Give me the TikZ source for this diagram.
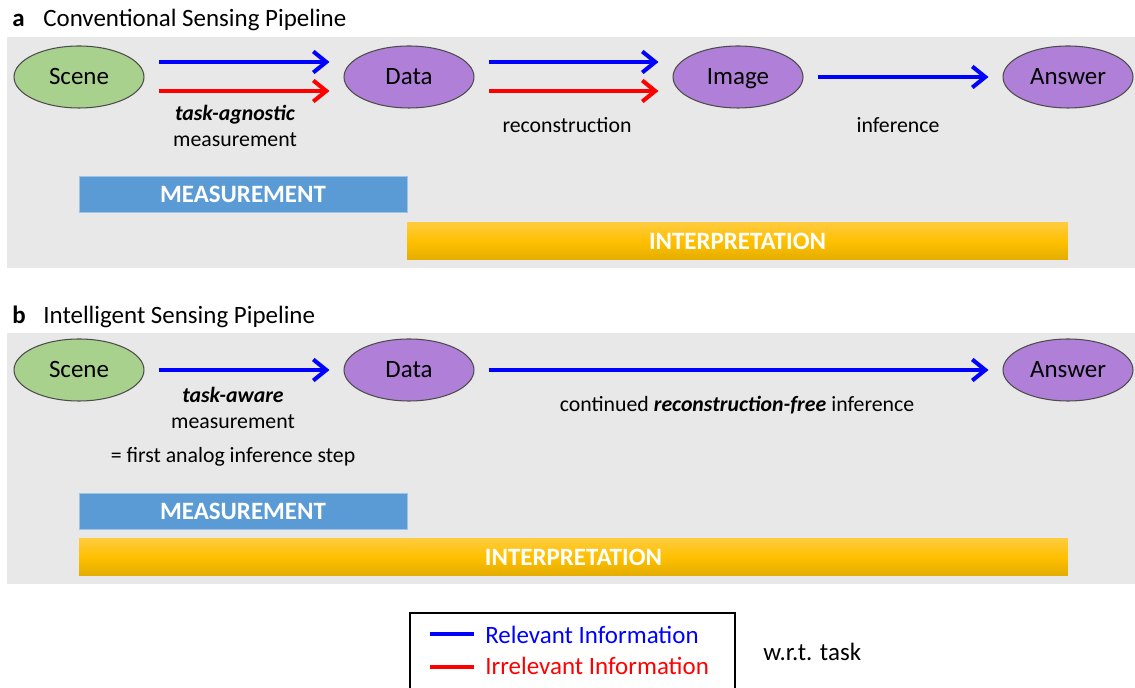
\documentclass[tikz,border=0pt]{standalone}
\usepackage{fontspec}
\setmainfont{Carlito}
\usetikzlibrary{calc, arrows.meta, shapes.geometric}
\definecolor{panelgray}{HTML}{E8E8E8}
\definecolor{scenegreen}{HTML}{A9D18E}
\definecolor{datapurple}{HTML}{B07FD8}
\definecolor{measblue}{HTML}{5B9BD5}
\definecolor{goldtop}{HTML}{FFCB3D}
\definecolor{goldmid}{HTML}{FFC000}
\definecolor{goldbot}{HTML}{E3AC00}

\begin{document}
\begin{tikzpicture}[x=0.02cm,y=-0.02cm,
    >={Straight Barb[length=2.6mm,width=4.2mm]},
    stage/.style={ellipse,draw=black!70,line width=0.6pt,minimum width=2.6cm,minimum height=1.24cm,inner sep=0pt,text height=11pt,text depth=2pt,font=\fontsize{14.2}{17}\selectfont},
    relevant/.style={->,blue,line width=2.3pt,shorten <=0.28cm,shorten >=0.28cm},
    irrelevant/.style={relevant,red},
    lbl/.style={anchor=base,inner sep=0pt,font=\fontsize{12.4}{15}\selectfont},
    title/.style={anchor=base west,inner sep=0pt,font=\fontsize{14.2}{17}\selectfont},
    measbar/.style={fill=measblue,draw=measblue!60!white,text=white,minimum height=0.72cm,inner sep=0pt,font=\bfseries\fontsize{14.2}{17}\selectfont},
    interbar/.style={top color=goldtop,bottom color=goldbot,middle color=goldmid,text=white,minimum height=0.74cm,inner sep=0pt,font=\bfseries\fontsize{14.2}{17}\selectfont}]
    \useasboundingbox (0,0) rectangle (1135,688);
    \fill[panelgray] (7,37) rectangle (1135,268);
    \fill[panelgray] (7,333) rectangle (1135,584);
    \node (taga) at (12,27)[title]{\textbf{a}};
    \node (titlea) at (43,27)[title]{Conventional Sensing Pipeline};
    \node (scenea) at (79,77)[stage,fill=scenegreen]{Scene};
    \node (dataa) at (409,77)[stage,fill=datapurple]{Data};
    \node (imagea) at (738,77)[stage,fill=datapurple]{Image};
    \node (answera) at (1068,77)[stage,fill=datapurple]{Answer};
    \draw[relevant] ($(scenea.east)+(0,-15)$)--($(dataa.west)+(0,-15)$);
    \draw[irrelevant] ($(scenea.east)+(0,14)$)--($(dataa.west)+(0,14)$);
    \draw[relevant] ($(dataa.east)+(0,-15)$)--($(imagea.west)+(0,-15)$);
    \draw[irrelevant] ($(dataa.east)+(0,14)$)--($(imagea.west)+(0,14)$);
    \draw[relevant] (imagea)--(answera);
    \node (agnostic) at (235,121)[lbl]{\textbf{\textit{task-agnostic}}};
    \node (measa) at (235,147)[lbl]{measurement};
    \node (recon) at (567,133)[lbl]{reconstruction};
    \node (infera) at (898,133)[lbl]{inference};
    \node (measbara) at (243,194)[measbar,minimum width=6.56cm]{MEASUREMENT};
    \node (interbara) at (737.5,241.5)[interbar,minimum width=13.22cm]{INTERPRETATION};
    \node (tagb) at (12,324)[title]{\textbf{b}};
    \node (titleb) at (43,324)[title]{Intelligent Sensing Pipeline};
    \node (sceneb) at (79,370)[stage,fill=scenegreen]{Scene};
    \node (datab) at (409,370)[stage,fill=datapurple]{Data};
    \node (answerb) at (1068,370)[stage,fill=datapurple]{Answer};
    \draw[relevant] (sceneb)--(datab);
    \draw[relevant] (datab)--(answerb);
    \node (aware) at (233,403)[lbl]{\textbf{\textit{task-aware}}};
    \node (measb) at (233,429)[lbl]{measurement};
    \node (firststep) at (233,463)[lbl]{= first analog inference step};
    \node (inferb) at (737,412)[lbl]{continued \textbf{\textit{reconstruction-free}} inference};
    \node (measbarb) at (243,511.5)[measbar,minimum width=6.56cm]{MEASUREMENT};
    \node (interbarb) at (573.5,557)[interbar,minimum width=19.78cm]{INTERPRETATION};
    \draw[line width=0.9pt] (410,700)--(410,613)--(735,613)--(735,700);
    \node (reltxt) at (485,643)[title,text=blue]{Relevant Information};
    \node (irrtxt) at (485,674)[title,text=red]{Irrelevant Information};
    \draw[blue,line width=2.3pt] ([xshift=-1.1cm,yshift=0.18cm]reltxt.base west)--([xshift=-0.22cm,yshift=0.18cm]reltxt.base west);
    \draw[red,line width=2.3pt] ([xshift=-1.1cm,yshift=0.14cm]irrtxt.base west)--([xshift=-0.22cm,yshift=0.14cm]irrtxt.base west);
    \node (wrt) at (763,660)[title]{w.r.t. task};
\end{tikzpicture}
\end{document}
